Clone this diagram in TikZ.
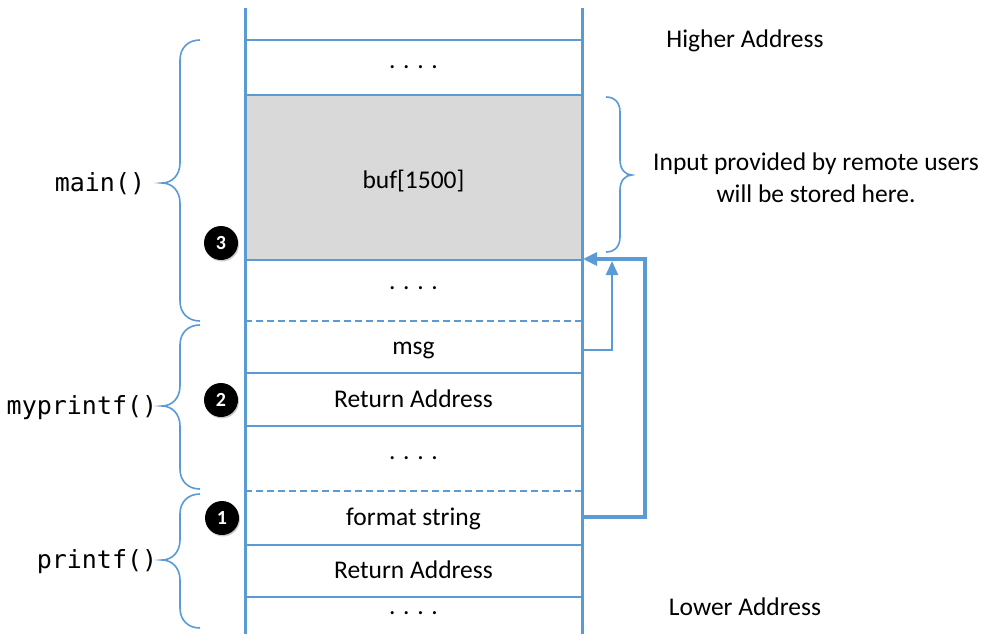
\documentclass[tikz,border=0pt]{standalone}
\usepackage{fontspec}
\setmainfont{Carlito}
\setmonofont{DejaVu Sans Mono}
\usetikzlibrary{shadows,arrows.meta}
\definecolor{stk}{HTML}{5B9BD5}
\definecolor{bufgray}{HTML}{D9D9D9}
\newcommand{\leftbrc}[3]{% #1 top, #2 bottom, #3 tip y
  \draw[brc] (200,#1) .. controls (188,#1) and (180,{#1+8}) .. (180,{#1+20})
    -- (180,{#3-20}) .. controls (180,{#3-8}) and (172,#3) .. (162,#3)
    .. controls (172,#3) and (180,{#3+8}) .. (180,{#3+20})
    -- (180,{#2-20}) .. controls (180,{#2-8}) and (188,#2) .. (200,#2);}
\begin{document}
\begin{tikzpicture}[x=1pt,y=-1pt,
  txt/.style={font=\fontsize{25.5}{30}\selectfont, inner sep=0pt, anchor=base},
  fn/.style={font=\ttfamily\fontsize{25}{30}\selectfont, inner sep=0pt, anchor=base},
  wall/.style={draw=stk, line width=3pt},
  sep/.style={draw=stk, line width=2.8pt},
  dsep/.style={draw=stk, line width=2.8pt, dash pattern=on 7pt off 4pt},
  brc/.style={draw=stk, line width=1.6pt},
  num/.style={circle, fill=black, text=white, minimum size=34pt, inner sep=0pt,
    font=\bfseries\fontsize{20}{22}\selectfont,
    drop shadow={shadow xshift=1pt, shadow yshift=-1.5pt, opacity=0.2, fill=black}},
  ptrthin/.style={draw=stk, line width=2.2pt, -{Triangle[length=14pt,width=12pt]}},
  ptrthick/.style={draw=stk, line width=3.2pt, -{Triangle[length=14pt,width=13pt]}}
]
\useasboundingbox (0,0) rectangle (988,634);
% buffer fill
\fill[bufgray] (245,95) rectangle (582,260);
% separators
\draw[sep] (245,40) -- (582,40);
\draw[sep] (245,95) -- (582,95);
\draw[sep] (245,260) -- (582,260);
\draw[dsep] (245,321) -- (582,321);
\draw[sep] (245,373) -- (582,373);
\draw[sep] (245,426) -- (582,426);
\draw[dsep] (245,491) -- (582,491);
\draw[sep] (245,545) -- (582,545);
\draw[sep] (245,597) -- (582,597);
% walls
\draw[wall] (245,8) -- (245,634);
\draw[wall] (582,8) -- (582,634);
% cell texts
\node[txt] (d1) at (413.5,69) {. . . .};
\node[txt] (buf) at (413.5,188) {buf[1500]};
\node[txt] (d2) at (413.5,289) {. . . .};
\node[txt] (msg) at (413.5,354) {msg};
\node[txt] (ret1) at (413.5,407) {Return Address};
\node[txt] (d3) at (413.5,459) {. . . .};
\node[txt] (fmt) at (413.5,525) {format string};
\node[txt] (ret2) at (413.5,578) {Return Address};
\node[txt] (d4) at (413.5,614) {. . . .};
% side labels
\node[txt] (hi) at (745,48) {Higher Address};
\node[txt] (lo) at (745,615) {Lower Address};
\node[font=\fontsize{25.5}{32}\selectfont, inner sep=0pt, align=center, anchor=center] (inp) at (816,178)
  {Input provided by remote users\\will be stored here.};
% function labels
\node[fn] (fmain) at (100,191) {main()};
\node[fn] (fmy) at (82,414) {myprintf()};
\node[fn] (fpr) at (97,568) {printf()};
% braces
\leftbrc{40}{321}{183}
\leftbrc{325}{489}{406}
\leftbrc{494}{628}{560}
\draw[brc] (606,97) .. controls (615,97) and (620,103) .. (620,112)
  -- (620,160) .. controls (620,169) and (625,175) .. (632,175)
  .. controls (625,175) and (620,181) .. (620,190)
  -- (620,237) .. controls (620,246) and (615,252) .. (606,252);
% numbered markers
\node[num] (n3) at (221,243) {3};
\node[num] (n2) at (221,400) {2};
\node[num] (n1) at (222,518) {1};
% pointers
\coordinate (msgport) at (582,350);
\coordinate (bufhit) at (612,261);
\coordinate (fmtport) at (582,517);
\coordinate (turn) at (645,259);
\coordinate (bufcorner) at (583,259);
\draw[ptrthin] (msgport) -| (bufhit);
\draw[ptrthick] (fmtport) -| (turn) -- (bufcorner);
\end{tikzpicture}
\end{document}
